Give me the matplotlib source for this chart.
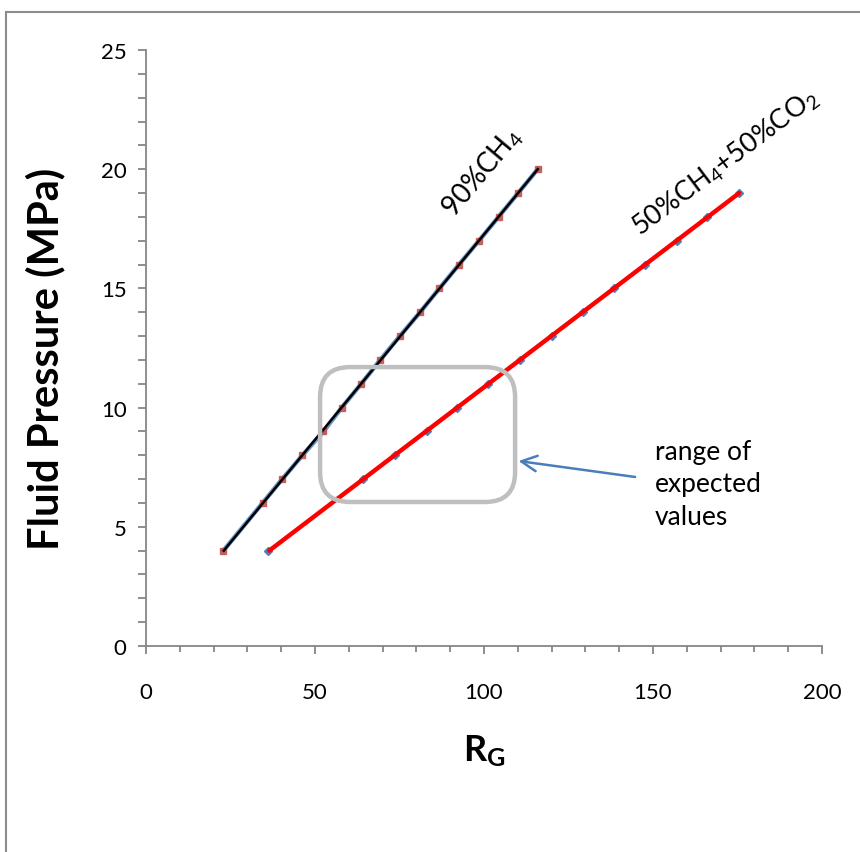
import numpy as np
import matplotlib
matplotlib.use("Agg")
import matplotlib.pyplot as plt
from matplotlib.patches import FancyBboxPatch
from matplotlib.lines import Line2D
from matplotlib.ticker import MultipleLocator

plt.rcParams['font.family'] = ['Lato', 'DejaVu Sans']
plt.rcParams['mathtext.fontset'] = 'custom'
plt.rcParams['mathtext.rm'] = 'Lato'
plt.rcParams['mathtext.it'] = 'Lato:italic'
plt.rcParams['mathtext.bf'] = 'Lato:bold'

# Fluid pressure (MPa) versus R_G for two gas compositions
ch4_pressure = [4, 6, 7, 8, 9, 10, 11, 12, 13, 14, 15, 16, 17, 18, 19, 20]
ch4_rg = [22.9, 34.5, 40.3, 46.3, 52.5, 57.9, 63.7, 69.3, 75.1, 81.1,
          86.8, 92.6, 98.5, 104.3, 110.1, 115.9]

mix_pressure = [4, 7, 8, 9, 10, 11, 12, 13, 14, 15, 16, 17, 18, 19]
mix_rg = [36.2, 64.3, 73.7, 83.0, 91.9, 101.3, 110.7, 120.0, 129.3,
          138.5, 147.6, 157.1, 166.0, 175.4]

x_ticks = [0, 50, 100, 150, 200]
y_ticks = [0, 5, 10, 15, 20, 25]

GRAY = '#868686'

fig = plt.figure(figsize=(8.6, 8.53), dpi=100)
W, H = 860, 853
ax = fig.add_axes([146 / W, 1 - 647 / H, (822 - 146) / W, (647 - 51) / H])
ax.set_xlim(0, 200)
ax.set_ylim(0, 25)

# 90% CH4: blue series line with square markers, black fitted line on top
ax.plot(ch4_rg, ch4_pressure, color='#4F81BD', lw=3.2, marker='s', ms=5,
        mfc='#C0504D', mec='#C0504D', alpha=0.85, zorder=3)
fit1 = np.polyfit(ch4_pressure, ch4_rg, 1)
p1 = np.array([min(ch4_pressure), max(ch4_pressure)])
ax.plot(np.polyval(fit1, p1), p1, color='black', lw=1.8, zorder=4)

# 50% CH4 + 50% CO2: diamond markers under a red fitted line
ax.plot(mix_rg, mix_pressure, color='#4F81BD', lw=0, marker='D', ms=4.5,
        mfc='#4F81BD', mec='#4F81BD', zorder=3)
fit2 = np.polyfit(mix_pressure, mix_rg, 1)
p2 = np.array([min(mix_pressure), max(mix_pressure)])
ax.plot(np.polyval(fit2, p2), p2, color='#FF0000', lw=3.2, zorder=4,
        solid_capstyle='round')

# Axes styling
for side in ('top', 'right'):
    ax.spines[side].set_visible(False)
for side in ('left', 'bottom'):
    ax.spines[side].set_color(GRAY)
    ax.spines[side].set_linewidth(1.3)

ax.set_xticks(x_ticks)
ax.set_yticks(y_ticks)
ax.xaxis.set_minor_locator(MultipleLocator(10))
ax.yaxis.set_minor_locator(MultipleLocator(1))
ax.tick_params(axis='x', which='major', direction='out', length=6, width=1.3,
               color=GRAY, labelsize=16, pad=20)
ax.tick_params(axis='x', which='minor', direction='out', length=4, width=1.3,
               color=GRAY)
ax.tick_params(axis='y', which='both', direction='out', length=6, width=1.3,
               color=GRAY, labelsize=16, pad=8)

ax.set_ylabel('Fluid Pressure (MPa)', fontsize=30, fontweight='bold')
ax.yaxis.set_label_coords(-0.119, 0.483)
ax.set_xlabel(r'$\mathbf{R}_\mathbf{G}$', fontsize=26, labelpad=22)

# Series labels along each line
ax.text(99.4, 19.9, r'90%CH$_4$', rotation=50, fontsize=20,
        ha='center', va='center', rotation_mode='anchor', clip_on=False)
ax.text(171.5, 20.3, r'50%CH$_4$+50%CO$_2$', rotation=37, fontsize=19.5,
        ha='center', va='center', rotation_mode='anchor', clip_on=False)

# Highlight box for the expected range
fig.canvas.draw()
bb = ax.get_window_extent()
px_x = bb.width / 200.0
px_y = bb.height / 25.0
radius_px = 30
box = FancyBboxPatch((51.5, 6.04), 109.2 - 51.5, 11.7 - 6.04,
                     boxstyle=f"round,pad=0,rounding_size={radius_px / px_x}",
                     mutation_aspect=px_x / px_y,
                     fill=False, edgecolor='#BFBFBF', lw=3.2, zorder=5)
ax.add_patch(box)

ax.annotate('', xy=(110.2, 7.76), xytext=(144.7, 7.09),
            arrowprops=dict(arrowstyle='->', color='#4A7EBB', lw=1.8,
                            mutation_scale=28, shrinkA=0, shrinkB=0))
ax.text(150.6, 8.7, 'range of\nexpected\nvalues', fontsize=19,
        ha='left', va='top', linespacing=1.38)

# Chart-area frame
fig.add_artist(Line2D([6 / W, 6 / W], [0, 1 - 13 / H], color='#8C8C8C', lw=1.5))
fig.add_artist(Line2D([6 / W, 1], [1 - 13 / H, 1 - 13 / H], color='#8C8C8C', lw=1.5))

fig.savefig('out.png', dpi=100)
